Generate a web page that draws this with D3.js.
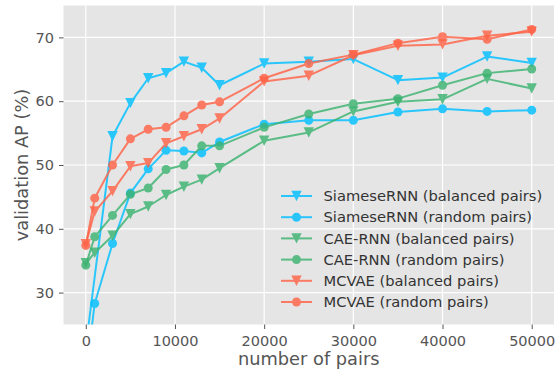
<!DOCTYPE html>
<html><head><meta charset="utf-8">
<script src="https://cdn.jsdelivr.net/npm/d3@7"></script>
<style>html,body{margin:0;padding:0;background:#fff;}svg{display:block;}</style>
</head><body>
<script>
const pairs = [0, 1000, 3000, 5000, 7000, 9000, 11000, 13000, 15000, 20000, 25000, 30000, 35000, 40000, 45000, 50000];
const siameseBalanced = [21.5, null, 54.5, 59.7, 63.6, 64.4, 66.2, 65.25, 62.5, 65.9, 66.2, 66.6, 63.3, 63.7, 67.0, 66.0];
const siameseRandom   = [17.0, 28.3, 37.7, 45.6, 49.4, 52.3, 52.2, 51.9, 53.6, 56.4, 57.0, 57.0, 58.3, 58.8, 58.4, 58.6];
const caeBalanced     = [34.6, 36.25, 38.9, 42.3, 43.5, 45.3, 46.6, 47.7, 49.5, 53.8, 55.1, 58.4, 59.9, 60.3, 63.5, 62.0];
const caeRandom       = [34.3, 38.75, 42.1, 45.4, 46.4, 49.3, 50.0, 53.0, 53.0, 55.9, 58.0, 59.6, 60.4, 62.5, 64.4, 65.05];
const mcvaeBalanced   = [37.6, 42.7, 45.9, 49.8, 50.3, 53.4, 54.5, 55.6, 57.3, 63.1, 64.0, 67.2, 68.7, 68.9, 70.25, 70.9];
const mcvaeRandom     = [37.4, 44.8, 50.0, 54.1, 55.6, 55.9, 57.7, 59.4, 59.9, 63.6, 65.9, 67.3, 69.1, 70.1, 69.7, 71.25];
const seriesNames = ["SiameseRNN (balanced pairs)", "SiameseRNN (random pairs)", "CAE-RNN (balanced pairs)", "CAE-RNN (random pairs)", "MCVAE (balanced pairs)", "MCVAE (random pairs)"];
const xTicks = [0, 10000, 20000, 30000, 40000, 50000];
const yTicks = [30, 40, 50, 60, 70];

const series = [
  {name: seriesNames[0], values: siameseBalanced, color: "#00bfff", marker: "tri"},
  {name: seriesNames[1], values: siameseRandom, color: "#00bfff", marker: "circle"},
  {name: seriesNames[2], values: caeBalanced, color: "#3cb371", marker: "tri"},
  {name: seriesNames[3], values: caeRandom, color: "#3cb371", marker: "circle"},
  {name: seriesNames[4], values: mcvaeBalanced, color: "#ff6347", marker: "tri"},
  {name: seriesNames[5], values: mcvaeRandom, color: "#ff6347", marker: "circle"}
];

const W = 556, H = 370;
const L = 63.5, R = 554, T = 5.5, B = 324.5;
const svg = d3.select("body").append("svg").attr("width", W).attr("height", H);
const x = d3.scaleLinear().domain([-2500, 52500]).range([L, R]);
const y = d3.scaleLinear().domain([25, 75]).range([B, T]);

svg.append("rect").attr("x", L).attr("y", T).attr("width", R - L).attr("height", B - T).attr("fill", "#e5e5e5");

// grid
svg.append("g").selectAll("line").data(xTicks).join("line")
  .attr("x1", d => x(d)).attr("x2", d => x(d)).attr("y1", T).attr("y2", B)
  .attr("stroke", "#fff").attr("stroke-width", 1.2);
svg.append("g").selectAll("line").data(yTicks).join("line")
  .attr("y1", d => y(d)).attr("y2", d => y(d)).attr("x1", L).attr("x2", R)
  .attr("stroke", "#fff").attr("stroke-width", 1.2);

// axes
const font = "'DejaVu Sans', sans-serif";
const xAxis = svg.append("g").attr("transform", `translate(0,${B})`)
  .call(d3.axisBottom(x).tickValues(xTicks).tickFormat(d3.format("d")).tickSize(4.5).tickPadding(6.5));
const yAxis = svg.append("g").attr("transform", `translate(${L},0)`)
  .call(d3.axisLeft(y).tickValues(yTicks).tickFormat(d3.format("d")).tickSize(4.5).tickPadding(5));
[xAxis, yAxis].forEach(a => {
  a.select(".domain").remove();
  a.selectAll(".tick line").attr("stroke", "#555").attr("stroke-width", 1);
  a.selectAll(".tick text").attr("fill", "#555").style("font-family", font).style("font-size", "14.5px");
});

svg.append("text").attr("x", (L + R) / 2).attr("y", 364.5).attr("text-anchor", "middle")
  .style("font-family", font).style("font-size", "17.8px").attr("fill", "#555").text("number of pairs");
svg.append("text").attr("transform", `translate(28,${(T + B) / 2}) rotate(-90)`).attr("text-anchor", "middle")
  .style("font-family", font).style("font-size", "17.8px").attr("fill", "#555").text("validation AP (%)");

svg.append("clipPath").attr("id", "clip").append("rect")
  .attr("x", L).attr("y", T).attr("width", R - L).attr("height", B - T);

const triPath = s => `M0,${s}L${-s},${-s}L${s},${-s}Z`;
const line = d3.line().x(d => x(d[0])).y(d => y(d[1]));
const plot = svg.append("g").attr("clip-path", "url(#clip)");

function drawMarker(g, type, color) {
  if (type === "tri") g.append("path").attr("d", triPath(5.2)).attr("fill", color);
  else g.append("circle").attr("r", 4.5).attr("fill", color);
}

series.forEach(s => {
  const pts = pairs.map((p, i) => [p, s.values[i]]).filter(d => d[1] !== null);
  const g = plot.append("g").attr("opacity", 0.82);
  g.append("path").datum(pts).attr("d", line).attr("fill", "none")
    .attr("stroke", s.color).attr("stroke-width", 2).attr("stroke-linejoin", "round");
  pts.forEach(d => {
    const m = g.append("g").attr("transform", `translate(${x(d[0])},${y(d[1])})`);
    drawMarker(m, s.marker, s.color);
  });
});

// legend
const leg = svg.append("g");
series.forEach((s, i) => {
  const cy = 196 + i * 21.2;
  const g = leg.append("g").attr("opacity", 0.82);
  g.append("line").attr("x1", 281).attr("x2", 312).attr("y1", cy).attr("y2", cy)
    .attr("stroke", s.color).attr("stroke-width", 2);
  const m = g.append("g").attr("transform", `translate(296.5,${cy})`);
  drawMarker(m, s.marker, s.color);
  leg.append("text").attr("x", 323.5).attr("y", cy).attr("dy", "0.35em")
    .style("font-family", font).style("font-size", "14.7px").attr("fill", "#333").text(s.name);
});
</script>
</body></html>
